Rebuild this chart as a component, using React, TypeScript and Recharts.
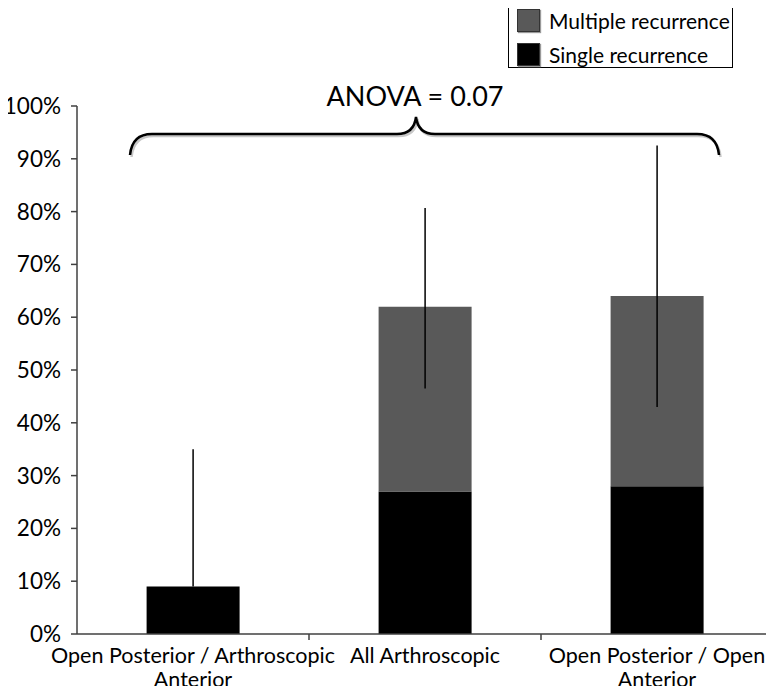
import { BarChart, Bar, XAxis, YAxis, ErrorBar } from 'recharts'

const categories = [
  'Open Posterior / Arthroscopic Anterior',
  'All Arthroscopic',
  'Open Posterior / Open Anterior',
]
const singleRecurrence = [9, 27, 28]
const multipleRecurrence = [0, 35, 36]
// interval ends drawn as the black whisker lines
const ciLow = [9, 46.5, 43]
const ciHigh = [35, 80.7, 92.5]
const yTicks = [0, 10, 20, 30, 40, 50, 60, 70, 80, 90, 100]

// the whisker hangs off whichever segment is on top of the stack
const data = categories.map((name, i) => {
  const total = singleRecurrence[i] + multipleRecurrence[i]
  const err = [total - ciLow[i], ciHigh[i] - total]
  const topIsMultiple = multipleRecurrence[i] > 0
  return {
    name,
    single: singleRecurrence[i],
    multiple: multipleRecurrence[i],
    errSingle: topIsMultiple ? null : err,
    errMultiple: topIsMultiple ? err : null,
  }
})

const FONT = 'Lato, "Open Sans", sans-serif'

function wrap(text: string, max: number) {
  const words = text.split(' ')
  const lines: string[] = []
  let cur = ''
  for (const w of words) {
    const next = cur ? cur + ' ' + w : w
    if (next.length > max && cur) {
      lines.push(cur)
      cur = w
    } else cur = next
  }
  if (cur) lines.push(cur)
  return lines
}

// category label + small divider tick on the left boundary of the band
const CategoryTick = (props: any) => {
  const { x, y, payload, index } = props
  const lines = wrap(payload.value, 29)
  const left = x - (payload.offset ?? 0)
  return (
    <g>
      {index > 0 && <line x1={left} x2={left} y1={y} y2={y + 6} stroke="#404040" strokeWidth={1.5} />}
      <text x={x} y={y} textAnchor="middle" fill="#000" fontSize={21.5} fontFamily={FONT}>
        {lines.map((l, i) => (
          <tspan key={i} x={x} dy={i === 0 ? 29 : 24}>
            {l}
          </tspan>
        ))}
      </text>
    </g>
  )
}

const legendItems = [
  { label: 'Multiple recurrence', color: '#595959' },
  { label: 'Single recurrence', color: '#000000' },
]

export default function App() {
  return (
    <div style={{ position: 'relative', width: 774, height: 694, margin: -8, fontFamily: FONT, background: '#fff', overflow: 'hidden' }}>
      <BarChart
        width={774}
        height={694}
        data={data}
        margin={{ top: 106, right: 1, left: 0, bottom: 0 }}
        barCategoryGap="30%"
      >
        <XAxis
          dataKey="name"
          height={60}
          interval={0}
          tickLine={false}
          tickSize={0}
          tickMargin={0}
          axisLine={{ stroke: '#404040', strokeWidth: 1.5 }}
          tick={<CategoryTick />}
        />
        <YAxis
          width={77}
          domain={[0, 100]}
          ticks={yTicks}
          interval={0}
          tickFormatter={(v) => `${v}%`}
          axisLine={{ stroke: '#404040', strokeWidth: 1.5 }}
          tickLine={{ stroke: '#404040', strokeWidth: 1.5 }}
          tickSize={6}
          tickMargin={10}
          tick={{ fill: '#000', fontSize: 22.5, fontFamily: FONT }}
        />
        <Bar dataKey="single" stackId="a" fill="#000000" isAnimationActive={false}>
          <ErrorBar dataKey="errSingle" width={0} stroke="#000" strokeWidth={1.5} direction="y" />
        </Bar>
        <Bar dataKey="multiple" stackId="a" fill="#595959" isAnimationActive={false}>
          <ErrorBar dataKey="errMultiple" width={0} stroke="#000" strokeWidth={1.5} direction="y" />
        </Bar>
      </BarChart>

      {/* ANOVA brace annotation */}
      <svg width={774} height={694} style={{ position: 'absolute', left: 0, top: 0, pointerEvents: 'none' }}>
        <path
          d="M130 155 Q132 134 152 134 L397 134 Q414 134 416 117 Q418 134 435 134 L697 134 Q717 134 719 155"
          fill="none"
          stroke="#c8c8c8"
          strokeWidth={2.5}
          transform="translate(1.5,2)"
        />
        <path
          d="M130 155 Q132 134 152 134 L397 134 Q414 134 416 117 Q418 134 435 134 L697 134 Q717 134 719 155"
          fill="none"
          stroke="#000"
          strokeWidth={2.5}
        />
        <text x={415} y={106} textAnchor="middle" fontSize={27} fill="#000" fontFamily={FONT}>
          ANOVA = 0.07
        </text>
      </svg>

      <div
        style={{
          position: 'absolute',
          left: 508,
          top: 0,
          width: 225,
          height: 68,
          border: '1.5px solid #000',
          background: '#fff',
          padding: '5px 0 0 8px',
          boxSizing: 'border-box',
        }}
      >
        {legendItems.map((it) => (
          <div key={it.label} style={{ display: 'flex', alignItems: 'center', height: 29, marginBottom: 5 }}>
            <span
              style={{
                display: 'inline-block',
                width: 21,
                height: 21,
                background: it.color,
                border: '1px solid #333',
                boxShadow: '1px 1px 1px #999',
                marginRight: 9,
              }}
            />
            <span style={{ fontSize: 21, color: '#000' }}>{it.label}</span>
          </div>
        ))}
      </div>
    </div>
  )
}
